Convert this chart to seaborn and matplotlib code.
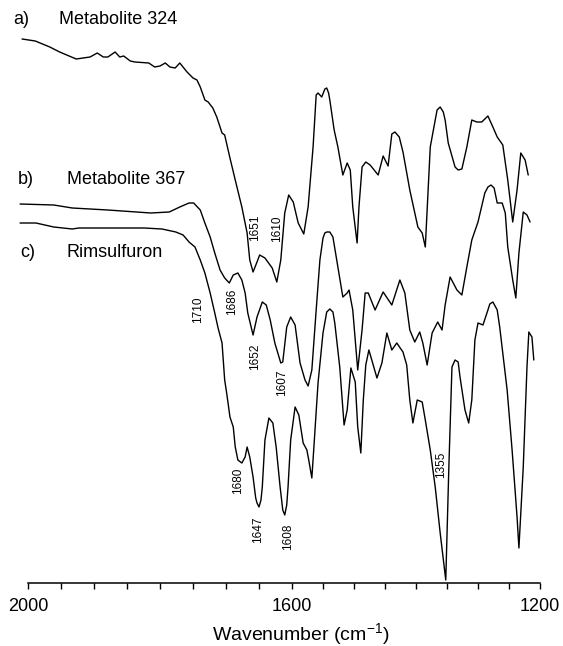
import numpy as np
import pandas as pd
import matplotlib
matplotlib.use("Agg")
import matplotlib.pyplot as plt
import seaborn as sns

# ---- data: wavenumber (cm-1) and relative transmittance (a.u., 0 = baseline axis) ----
wn_a = [2009, 1989, 1967, 1952, 1927, 1906, 1895, 1886, 1879, 1868, 1861, 1855, 1845, 1838, 1817,
        1808, 1800, 1792, 1785, 1777, 1770, 1759, 1750, 1744, 1739, 1732, 1727, 1720, 1714, 1706,
        1702, 1694, 1686, 1676, 1668, 1664, 1659, 1653, 1649, 1641, 1630, 1623, 1617, 1611, 1605,
        1598, 1590, 1581, 1574, 1566, 1561, 1558, 1552, 1547, 1544, 1541, 1539, 1532, 1526, 1518,
        1511, 1506, 1502, 1495, 1492, 1487, 1481, 1474, 1461, 1453, 1445, 1439, 1434, 1427, 1421,
        1410, 1397, 1390, 1385, 1381, 1377, 1369, 1366, 1361, 1356, 1353, 1348, 1337, 1332, 1326,
        1318, 1310, 1302, 1294, 1284, 1276, 1269, 1260, 1252, 1244, 1237, 1231, 1224, 1219]
t_a = [544, 542, 536, 531, 524, 526, 530, 526, 526, 531, 526, 527, 522, 521, 520,
       516, 517, 520, 516, 515, 520, 511, 505, 503, 496, 483, 481, 475, 466, 450,
       448, 425, 403, 376, 350, 323, 311, 321, 328, 325, 315, 301, 323, 370, 388,
       381, 360, 349, 376, 436, 488, 490, 486, 494, 495, 490, 483, 453, 436, 408,
       420, 413, 376, 340, 376, 416, 421, 418, 408, 427, 417, 449, 451, 446, 431,
       393, 356, 350, 336, 386, 436, 463, 473, 476, 471, 463, 440, 416, 413, 414,
       436, 463, 461, 461, 467, 456, 446, 438, 403, 361, 393, 430, 423, 408]

wn_b = [2012, 1961, 1933, 1879, 1814, 1786, 1770, 1756, 1749, 1739, 1732, 1724, 1717, 1709, 1702,
        1695, 1689, 1682, 1676, 1671, 1667, 1659, 1653, 1645, 1639, 1633, 1626, 1617, 1614, 1608,
        1602, 1595, 1587, 1579, 1574, 1568, 1561, 1555, 1550, 1547, 1544, 1539, 1534, 1526, 1518,
        1511, 1508, 1502, 1494, 1487, 1482, 1477, 1466, 1453, 1439, 1426, 1418, 1410, 1402, 1394,
        1389, 1382, 1374, 1365, 1358, 1353, 1345, 1334, 1326, 1318, 1310, 1300, 1289, 1284, 1279,
        1274, 1269, 1261, 1256, 1252, 1244, 1239, 1234, 1227, 1221, 1216]
t_b = [379, 378, 375, 373, 370, 371, 376, 380, 380, 373, 360, 346, 330, 313, 305,
       300, 308, 310, 303, 290, 270, 248, 266, 281, 278, 263, 240, 220, 221, 256,
       266, 258, 220, 203, 197, 213, 273, 323, 345, 350, 351, 351, 346, 316, 286,
       290, 293, 273, 213, 253, 290, 290, 273, 291, 278, 303, 290, 253, 241, 251,
       240, 218, 250, 261, 253, 278, 306, 293, 288, 316, 343, 361, 390, 396, 398,
       395, 380, 380, 370, 336, 303, 285, 330, 371, 368, 361]

wn_c = [2012, 1988, 1961, 1933, 1923, 1879, 1824, 1797, 1776, 1765, 1756, 1747, 1739, 1732, 1724,
        1717, 1712, 1706, 1702, 1699, 1694, 1689, 1686, 1682, 1676, 1671, 1668, 1664, 1659, 1655,
        1653, 1650, 1647, 1645, 1641, 1635, 1629, 1624, 1618, 1614, 1611, 1608, 1606, 1602, 1595,
        1589, 1582, 1576, 1573, 1568, 1565, 1558, 1550, 1544, 1539, 1534, 1531, 1523, 1516, 1511,
        1505, 1498, 1494, 1489, 1485, 1481, 1476, 1469, 1463, 1455, 1447, 1439, 1431, 1421, 1415,
        1410, 1405, 1398, 1390, 1385, 1377, 1369, 1361, 1352, 1347, 1342, 1337, 1332, 1329, 1321,
        1315, 1310, 1305, 1300, 1292, 1284, 1281, 1276, 1269, 1265, 1253, 1245, 1237, 1234, 1227,
        1221, 1218, 1213, 1210]
t_c = [360, 360, 356, 354, 355, 355, 355, 354, 351, 348, 341, 336, 323, 310, 290,
       270, 255, 240, 203, 190, 166, 156, 136, 123, 120, 126, 136, 126, 106, 85,
       80, 76, 83, 96, 143, 165, 160, 136, 96, 73, 68, 78, 96, 143, 176,
       168, 140, 133, 123, 105, 133, 200, 250, 271, 274, 271, 260, 216, 158, 173,
       215, 201, 156, 130, 183, 218, 233, 218, 205, 220, 250, 233, 240, 231, 218,
       183, 160, 183, 181, 163, 133, 96, 50, 3, 116, 216, 223, 221, 206, 173,
       160, 183, 243, 260, 258, 273, 279, 281, 273, 256, 193, 133, 66, 35, 116,
       216, 251, 246, 223]

trace_labels = [("a)", "Metabolite 324"), ("b)", "Metabolite 367"), ("c)", "Rimsulfuron")]
peak_labels = ["1651", "1610", "1686", "1710", "1652", "1607", "1680", "1647", "1608", "1355"]
major_ticks = [2000, 1600, 1200]
xlabel = "Wavenumber (cm$^{-1}$)"

# ---- style ----
sns.set_theme(style="white")
plt.rcParams["font.family"] = ["Liberation Sans", "DejaVu Sans"]
plt.rcParams["mathtext.fontset"] = "custom"
plt.rcParams["mathtext.rm"] = "Liberation Sans"
plt.rcParams["mathtext.it"] = "Liberation Sans:italic"
plt.rcParams["text.color"] = "black"
plt.rcParams["xtick.color"] = "black"
plt.rcParams["xtick.labelcolor"] = "black"

W, H = 563, 646
fig = plt.figure(figsize=(W / 100, H / 100), dpi=100)
ax = fig.add_axes([0, 0, 1, 1])

for wn, t in ((wn_a, t_a), (wn_b, t_b), (wn_c, t_c)):
    df = pd.DataFrame({"wn": wn, "T": t})
    sns.lineplot(data=df, x="wn", y="T", color="black", lw=1.0, sort=False,
                 estimator=None, ax=ax, legend=False)

# chart-paper calibration: slightly non-linear wavenumber scale
cal_wn = [1162.9, 1200.0, 1600.0, 2000.0, 2042.4]
cal_pos = [0.0, 23.0, 271.0, 535.0, 563.0]
fwd = lambda x: np.interp(x, cal_wn, cal_pos)
inv = lambda p: np.interp(p, cal_pos, cal_wn)
ax.set_xscale("function", functions=(fwd, inv))
ax.set_xlim(2042.4, 1162.9)
ax.set_ylim(-63, 583)

for s in ("top", "left", "right"):
    ax.spines[s].set_visible(False)
ax.spines["bottom"].set_position(("data", 0))
ax.spines["bottom"].set_bounds(1200, 2000)
ax.spines["bottom"].set_linewidth(1.1)
ax.spines["bottom"].set_color("black")

ax.set_xticks(major_ticks)
ax.set_xticklabels([str(v) for v in major_ticks])
ax.set_xticks(np.arange(1200, 2001, 50), minor=True)
ax.tick_params(axis="x", which="both", direction="out", length=4, width=1.0,
               color="black", bottom=True)
ax.tick_params(axis="x", which="major", labelsize=13, pad=7, labelcolor="black")
ax.set_yticks([])
ax.set_xlabel("")
ax.set_ylabel("")
ax.grid(False)


def fx(x, y):
    return x / W, 1 - y / H


# trace titles
tl_pos = [((13, 20), (59, 20)), ((18, 179), (67, 179)), ((20, 252), (67, 252))]
for (tag, name), (p1, p2) in zip(trace_labels, tl_pos):
    ax.text(*fx(*p1), tag, transform=ax.transAxes, fontsize=13, ha="left", va="center",
            color="black")
    ax.text(*fx(*p2), name, transform=ax.transAxes, fontsize=13, ha="left", va="center",
            color="black")

# peak annotations (rotated)
pk_pos = [(255, 228), (277, 229), (232, 302), (198, 310), (255, 357),
          (282, 383), (238, 481), (258, 530), (288, 537), (441, 465)]
for s, p in zip(peak_labels, pk_pos):
    ax.text(*fx(*p), s, transform=ax.transAxes, fontsize=8.5, rotation=90,
            ha="center", va="center", color="black")

ax.text(*fx(301, 634), xlabel, transform=ax.transAxes, fontsize=14,
        ha="center", va="center", color="black")

fig.savefig("out.png", dpi=100, facecolor="white")
